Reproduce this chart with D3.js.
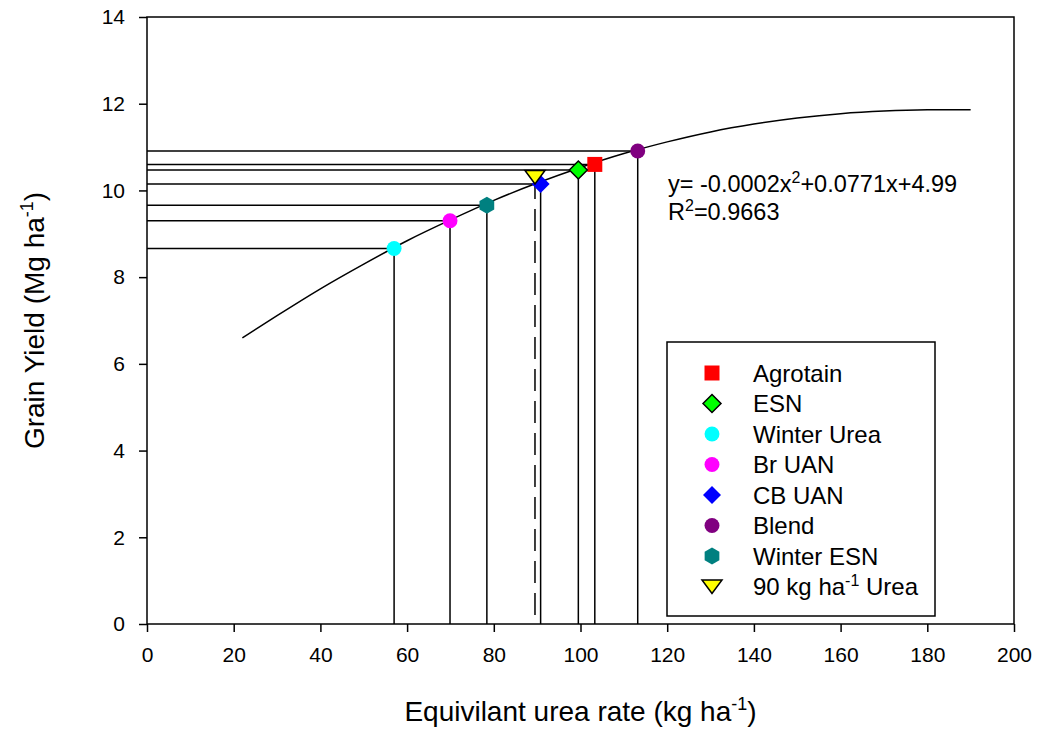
<!DOCTYPE html>
<html>
<head>
<meta charset="utf-8">
<script src="https://cdn.jsdelivr.net/npm/d3@7"></script>
<style>
  body { margin: 0; background: #fff; }
  svg text { font-family: "Liberation Sans", Arial, sans-serif; fill: #000; }
</style>
</head>
<body>
<div id="graphic"></div>
<script>
// fitted curve
const curveX = [22, 30, 40, 50, 60, 70, 80, 90, 100, 110, 120, 130, 140, 150, 160, 170, 180, 190];
const curveY = [6.6, 7.11, 7.73, 8.3, 8.84, 9.32, 9.77, 10.17, 10.53, 10.85, 11.12, 11.35, 11.53, 11.67, 11.77, 11.83, 11.86, 11.86];

// treatments
const names = ["Agrotain", "ESN", "Winter Urea", "Br UAN", "CB UAN", "Blend", "Winter ESN", "90 kg ha-1 Urea"];
const rates = [103.3, 99.5, 57.0, 69.9, 90.8, 113.2, 78.4, 89.5];
const yields = [10.60, 10.47, 8.66, 9.30, 10.15, 10.91, 9.66, 10.31];
const colors = ["#ff0000", "#00ff00", "#00ffff", "#ff00ff", "#0000ff", "#800080", "#008080", "#ffff00"];
const shapes = ["square", "diamondOutline", "circle", "circle", "diamond", "circle", "hexagon", "triangleDown"];
const dropLines = [true, true, true, true, true, true, true, false]; // horizontal line to y axis

const xTicks = [0, 20, 40, 60, 80, 100, 120, 140, 160, 180, 200];
const yTicks = [0, 2, 4, 6, 8, 10, 12, 14];

const graphicWidth = 1038, graphicHeight = 731;
const margin = {top: 17, right: 24, bottom: 107, left: 147};
const plotWidth = graphicWidth - margin.left - margin.right;
const plotHeight = graphicHeight - margin.top - margin.bottom;

const svg = d3.select("#graphic")
    .append("svg")
    .attr("width", graphicWidth)
    .attr("height", graphicHeight);

const plot = svg.append("g")
    .attr("transform", "translate(" + margin.left + "," + margin.top + ")");

const x = d3.scaleLinear().domain([0, 200]).range([0, plotWidth]);
const y = d3.scaleLinear().domain([0, 14]).range([plotHeight, 0]);

// symbol path for each marker type
function markerPath(shape) {
    if (shape === "square") return "M-7.5,-7.5H7.5V7.5H-7.5Z";
    if (shape === "diamond" || shape === "diamondOutline") return "M0,-9L9,0L0,9L-9,0Z";
    if (shape === "circle") return d3.symbol(d3.symbolCircle, 175)();
    if (shape === "triangleDown") return "M-10,-6.5L10,-6.5L0,7Z";
    if (shape === "hexagon") {
        let pts = d3.range(6).map(i => {
            let a = Math.PI / 3 * i - Math.PI / 2;
            return [8.5 * Math.cos(a), 8.5 * Math.sin(a)];
        });
        return "M" + pts.join("L") + "Z";
    }
}
function hasStroke(shape) {
    return shape === "diamondOutline" || shape === "triangleDown";
}

// drop lines
names.forEach((n, i) => {
    if (dropLines[i]) {
        plot.append("line")
            .attr("x1", x(0)).attr("x2", x(rates[i]))
            .attr("y1", y(yields[i])).attr("y2", y(yields[i]))
            .attr("stroke", "#000").attr("stroke-width", 1.5);
    }
    plot.append("line")
        .attr("x1", x(rates[i])).attr("x2", x(rates[i]))
        .attr("y1", y(yields[i])).attr("y2", y(0))
        .attr("stroke", "#000").attr("stroke-width", 1.5)
        .attr("stroke-dasharray", dropLines[i] ? null : "22,10");
});

// fitted curve
plot.append("path")
    .datum(curveX.map((v, i) => [v, curveY[i]]))
    .attr("fill", "none")
    .attr("stroke", "#000")
    .attr("stroke-width", 1.5)
    .attr("d", d3.line()
        .curve(d3.curveNatural)
        .x(d => x(d[0]))
        .y(d => y(d[1])));

// markers
names.forEach((n, i) => {
    plot.append("path")
        .attr("d", markerPath(shapes[i]))
        .attr("transform", "translate(" + x(rates[i]) + "," + y(yields[i]) + ")")
        .attr("fill", colors[i])
        .attr("stroke", hasStroke(shapes[i]) ? "#000" : "none")
        .attr("stroke-width", 1.5);
});

// frame
plot.append("rect")
    .attr("width", plotWidth).attr("height", plotHeight)
    .attr("fill", "none").attr("stroke", "#000").attr("stroke-width", 1.5);

// axes
const xAxis = plot.append("g")
    .attr("transform", "translate(0," + plotHeight + ")")
    .call(d3.axisBottom(x).tickValues(xTicks).tickSize(8).tickPadding(15).tickFormat(d3.format("d")));
const yAxis = plot.append("g")
    .call(d3.axisLeft(y).tickValues(yTicks).tickSize(8).tickPadding(14).tickFormat(d3.format("d")));
[xAxis, yAxis].forEach(a => {
    a.select(".domain").remove();
    a.selectAll("line").attr("stroke", "#000").attr("stroke-width", 1.5);
    a.selectAll("text").attr("font-size", "21px").attr("font-family", "Liberation Sans, Arial, sans-serif");
});

// axis titles
const xTitle = svg.append("text")
    .attr("x", margin.left + plotWidth / 2)
    .attr("y", 721)
    .attr("text-anchor", "middle")
    .attr("font-size", "28px");
xTitle.append("tspan").text("Equivilant urea rate (kg ha");
xTitle.append("tspan").attr("dy", -11).attr("font-size", "18px").text("-1");
xTitle.append("tspan").attr("dy", 11).text(")");

const yTitle = svg.append("text")
    .attr("transform", "translate(44," + (margin.top + plotHeight / 2) + ") rotate(-90)")
    .attr("text-anchor", "middle")
    .attr("font-size", "28px");
yTitle.append("tspan").text("Grain Yield (Mg ha");
yTitle.append("tspan").attr("dy", -11).attr("font-size", "18px").text("-1");
yTitle.append("tspan").attr("dy", 11).text(")");

// regression equation
const eq = svg.append("text").attr("x", 668).attr("y", 192).attr("font-size", "23.5px");
eq.append("tspan").text("y= -0.0002x");
eq.append("tspan").attr("dy", -9).attr("font-size", "16px").text("2");
eq.append("tspan").attr("dy", 9).text("+0.0771x+4.99");
const r2 = svg.append("text").attr("x", 668).attr("y", 220).attr("font-size", "23.5px");
r2.append("tspan").text("R");
r2.append("tspan").attr("dy", -9).attr("font-size", "16px").text("2");
r2.append("tspan").attr("dy", 9).text("=0.9663");

// legend
const legend = svg.append("g");
legend.append("rect")
    .attr("x", 667).attr("y", 342).attr("width", 268).attr("height", 274)
    .attr("fill", "#fff").attr("stroke", "#000").attr("stroke-width", 1.5);
names.forEach((n, i) => {
    const cy = 373 + i * 30.5;
    legend.append("path")
        .attr("d", markerPath(shapes[i]))
        .attr("transform", "translate(712," + cy + ")")
        .attr("fill", colors[i])
        .attr("stroke", hasStroke(shapes[i]) ? "#000" : "none")
        .attr("stroke-width", 1.5);
    const t = legend.append("text").attr("x", 753).attr("y", cy + 8.5).attr("font-size", "24px");
    if (n.indexOf("ha-1") >= 0) {
        t.append("tspan").text("90 kg ha");
        t.append("tspan").attr("dy", -9).attr("font-size", "16px").text("-1");
        t.append("tspan").attr("dy", 9).text(" Urea");
    } else {
        t.text(n);
    }
});
</script>
</body>
</html>
